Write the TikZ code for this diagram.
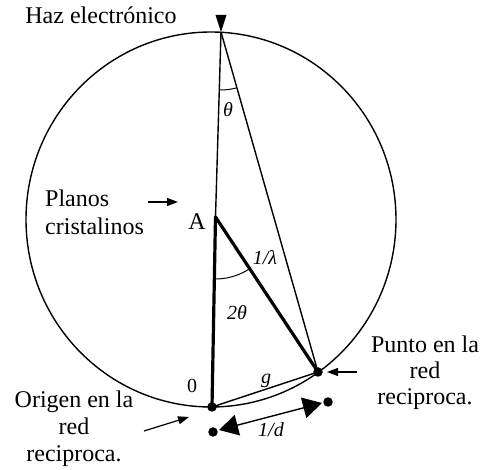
\documentclass[tikz,border=0pt]{standalone}
\usepackage{fontspec}
\setmainfont{Liberation Serif}
\usetikzlibrary{arrows.meta,angles}
\begin{document}
\begin{tikzpicture}[x=1pt,y=-1pt,
  lbl/.style={inner sep=0pt,font=\fontsize{24}{28}\selectfont},
  sym/.style={inner sep=0pt,font=\fontsize{20}{22}\selectfont\itshape},
  thin line/.style={line width=1.4pt},
  thick line/.style={line width=3.2pt},
  dotnode/.style={circle,fill=black,inner sep=0pt,minimum size=9.5pt},
  pointer/.style={line width=1.2pt,-{Triangle[length=11pt,width=8pt]}}]
\useasboundingbox (0,0) rectangle (483,470);
% key points
\coordinate (T) at (221,32);
\coordinate (A) at (215.5,217);
\coordinate (O) at (212,407);
\coordinate (P) at (318,372);
\coordinate (C) at (211,219.5);
% Ewald sphere
\draw[thin line] (C) ellipse [x radius=185pt, y radius=187.5pt];
% beam and diffracted ray
\draw[thin line] (T) -- (A);
\draw[thin line] (T) -- (P);
\draw[thick line,line cap=round] (A) -- (O);
\draw[thick line,line cap=round] (A) -- (P);
\draw[thin line] (O) -- (P);
% angles
\pic[draw,line width=1pt,angle radius=58pt] {angle=O--T--P};
\pic[draw,line width=1pt,angle radius=62pt] {angle=O--A--P};
% incoming beam marker
\coordinate (tb1) at (215.5,15);
\coordinate (tb2) at (226.5,15);
\fill (tb1) -- (tb2) -- (T) -- cycle;
% dots
\node[dotnode] (Od) at (O) {};
\node[dotnode] (Pd) at (P) {};
\node[dotnode] (Ld) at (213,432) {};
\node[dotnode] (Rd) at (328,402) {};
% 1/d double arrow
\coordinate (dl) at (219,430);
\coordinate (dr) at (322,403);
\draw[line width=1.4pt,{Triangle[length=19pt,width=21pt]}-{Triangle[length=19pt,width=21pt]}] (dl) -- (dr);
% pointer arrows
\coordinate (p1s) at (148,202);
\coordinate (p1e) at (178,202);
\draw[pointer] (p1s) -- (p1e);
\coordinate (p2s) at (357,372);
\coordinate (p2e) at (327,372);
\draw[pointer] (p2s) -- (p2e);
\coordinate (p3s) at (144,431);
\coordinate (p3e) at (189,417);
\draw[pointer] (p3s) -- (p3e);
% texts
\node[lbl,anchor=base] (haz) at (101,24) {Haz electrónico};
\node[lbl,anchor=base west] (pl1) at (45,207) {Planos};
\node[lbl,anchor=base west] (pl2) at (45,235) {cristalinos};
\node[lbl,anchor=base] (Alab) at (197,230) {A};
\node[lbl,anchor=base] (pu1) at (425,353) {Punto en la};
\node[lbl,anchor=base] (pu2) at (425,379) {red};
\node[lbl,anchor=base] (pu3) at (425,405) {reciproca.};
\node[lbl,anchor=base] (or1) at (74,408) {Origen en la};
\node[lbl,anchor=base] (or2) at (74,435) {red};
\node[lbl,anchor=base] (or3) at (74,462) {reciproca.};
\node[sym] (th) at (228,110) {θ};
\node[sym] (lam) at (265,258) {1/λ};
\node[sym] (tth) at (237,313) {2θ};
\node[sym,font=\fontsize{20}{22}\selectfont] (zero) at (192,386) {0};
\node[sym] (g) at (266,381) {g};
\node[sym] (dlab) at (271,430) {1/d};
\end{tikzpicture}
\end{document}
